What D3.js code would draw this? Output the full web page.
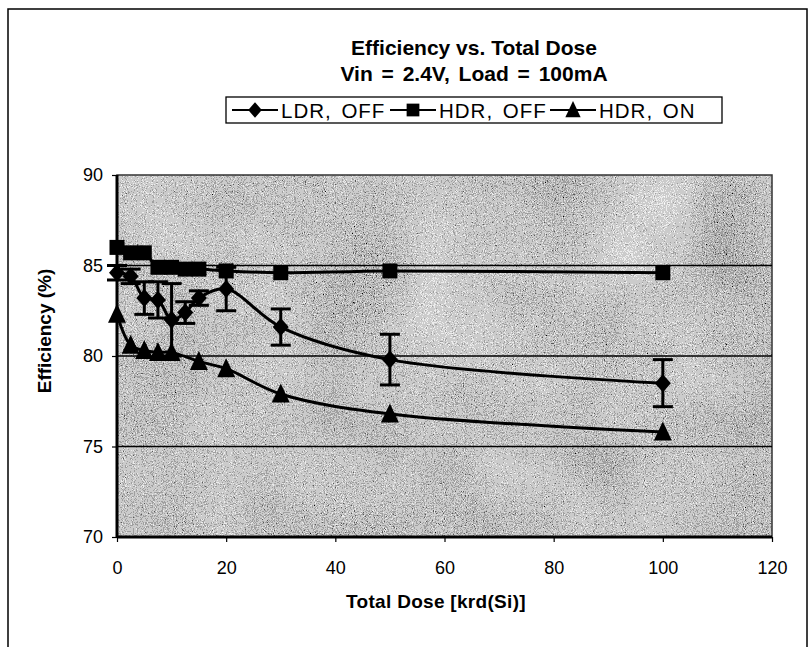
<!DOCTYPE html>
<html>
<head>
<meta charset="utf-8">
<script src="https://cdn.jsdelivr.net/npm/d3@7"></script>
<style>
  html, body { margin: 0; padding: 0; background: #ffffff; }
  svg { display: block; font-family: "Liberation Sans", Arial, sans-serif; }
</style>
</head>
<body>
<svg id="chart" width="811" height="647"></svg>
<script>
// ---------------- data ----------------
const ldrDose   = [0, 2.5, 5, 7.5, 10, 12.5, 15, 20, 30, 50, 100];
const ldrEff    = [84.6, 84.4, 83.2, 83.1, 82.0, 82.4, 83.2, 83.7, 81.6, 79.8, 78.5];
const ldrErr    = [0.4, 0.4, 0.9, 1.0, 2.0, 0.6, 0.4, 1.2, 1.0, 1.4, 1.3];

const hdrOffDose = [0, 2.5, 5, 7.5, 10, 12.5, 15, 20, 30, 50, 100];
const hdrOffEff  = [86.0, 85.7, 85.7, 84.9, 84.9, 84.8, 84.8, 84.7, 84.6, 84.7, 84.6];

const hdrOnDose = [0, 2.5, 5, 7.5, 10, 15, 20, 30, 50, 100];
const hdrOnEff  = [82.3, 80.6, 80.3, 80.2, 80.2, 79.7, 79.3, 77.9, 76.8, 75.8];

const xTicks = [0, 20, 40, 60, 80, 100, 120];
const yTicks = [70, 75, 80, 85, 90];
const gridValues = [75, 80, 85];

const titleLines = ["Efficiency vs. Total Dose", "Vin = 2.4V, Load = 100mA"];
const xTitle = "Total Dose [krd(Si)]";
const yTitle = "Efficiency (%)";
const legendNames = ["LDR, OFF", "HDR, OFF", "HDR, ON"];
const legendShapes = ["diamond", "square", "triangle"];

// ---------------- layout ----------------
const svg = d3.select("#chart");
const plot = { left: 117, right: 772, top: 175, bottom: 537 };

const x = d3.scaleLinear().domain([0, 120]).range([plot.left, plot.right]);
const y = d3.scaleLinear().domain([70, 90]).range([plot.bottom, plot.top]);

// outer chart border
svg.append("rect")
  .attr("x", 8).attr("y", 9).attr("width", 799).attr("height", 660)
  .attr("fill", "none").attr("stroke", "#000").attr("stroke-width", 1.5);

// texture filter for plot background
const defs = svg.append("defs");
const f = defs.append("filter").attr("id", "grain")
  .attr("x", 0).attr("y", 0).attr("width", 1).attr("height", 1)
  .attr("filterUnits", "objectBoundingBox");
f.append("feTurbulence").attr("type", "fractalNoise")
  .attr("baseFrequency", "0.9").attr("numOctaves", 2).attr("seed", 7).attr("result", "fine");
f.append("feTurbulence").attr("type", "fractalNoise")
  .attr("baseFrequency", "0.01").attr("numOctaves", 2).attr("seed", 3).attr("result", "coarse");
f.append("feComposite").attr("in", "fine").attr("in2", "coarse")
  .attr("operator", "arithmetic").attr("k1", 0).attr("k2", 0.9).attr("k3", 0.25).attr("k4", -0.08)
  .attr("result", "mix");
f.append("feColorMatrix").attr("in", "mix").attr("type", "matrix")
  .attr("values", "0.33 0.33 0.33 0 0  0.33 0.33 0.33 0 0  0.33 0.33 0.33 0 0  0 0 0 0 1");
const ct = f.append("feComponentTransfer");
["feFuncR", "feFuncG", "feFuncB"].forEach(n =>
  ct.append(n).attr("type", "discrete").attr("tableValues", "0 0.1 0.35 0.6 0.85 1 1 1"));

svg.append("rect")
  .attr("x", plot.left).attr("y", plot.top)
  .attr("width", plot.right - plot.left).attr("height", plot.bottom - plot.top)
  .attr("fill", "#c0c0c0")
  .attr("filter", "url(#grain)");

// plot border (top/right thin)
svg.append("rect")
  .attr("x", plot.left).attr("y", plot.top)
  .attr("width", plot.right - plot.left).attr("height", plot.bottom - plot.top)
  .attr("fill", "none").attr("stroke", "#333").attr("stroke-width", 1.5);

// gridlines
svg.append("g").selectAll("line").data(gridValues).join("line")
  .attr("x1", plot.left).attr("x2", plot.right)
  .attr("y1", d => y(d)).attr("y2", d => y(d))
  .attr("stroke", "#000").attr("stroke-width", 1.6);

// axes
const yAxis = svg.append("g").attr("transform", `translate(${plot.left},0)`)
  .call(d3.axisLeft(y).tickValues(yTicks).tickSize(5).tickPadding(9).tickFormat(d3.format("d")));
const xAxis = svg.append("g").attr("transform", `translate(0,${plot.bottom})`)
  .call(d3.axisBottom(x).tickValues(xTicks).tickSize(5).tickPadding(19).tickFormat(d3.format("d")));
[yAxis, xAxis].forEach(g => {
  g.select(".domain").attr("stroke", "#000").attr("stroke-width", 3);
  g.selectAll(".tick line").attr("stroke", "#000").attr("stroke-width", 1.2);
  g.selectAll(".tick text").attr("fill", "#000")
    .style("font-size", "18px").style("font-family", '"Liberation Sans", Arial, sans-serif');
});
xAxis.select(".domain").attr("d", `M${plot.left},0H${plot.right}`);
yAxis.select(".domain").attr("d", `M0,${plot.top}V${plot.bottom}`);

// axis titles
svg.append("text").attr("x", 436).attr("y", 608)
  .attr("text-anchor", "middle").attr("font-weight", "bold").attr("font-size", 19)
  .attr("letter-spacing", 0.3)
  .text(xTitle);
svg.append("text").attr("transform", `translate(51,331) rotate(-90)`)
  .attr("text-anchor", "middle").attr("font-weight", "bold").attr("font-size", 19)
  .text(yTitle);

// title
svg.append("g").selectAll("text").data(titleLines).join("text")
  .attr("x", 474).attr("y", (d, i) => 55 + i * 26)
  .attr("text-anchor", "middle").attr("font-weight", "bold").attr("font-size", 21)
  .attr("word-spacing", (d, i) => i === 1 ? 3 : 0)
  .text(d => d);

// ---------------- series ----------------
const line = d3.line().x(d => x(d[0])).y(d => y(d[1])).curve(d3.curveCatmullRom.alpha(0.5));

function shapePath(type) {
  if (type === "diamond") return "M0,-9L8,0L0,9L-8,0Z";
  if (type === "square") return "M-7.5,-7.5H7.5V7.5H-7.5Z";
  return "M0,-10.5L9,8.5H-9Z";
}

const seriesList = [
  { dose: ldrDose, eff: ldrEff, shape: "diamond" },
  { dose: hdrOffDose, eff: hdrOffEff, shape: "square" },
  { dose: hdrOnDose, eff: hdrOnEff, shape: "triangle" }
];

// lines
seriesList.forEach(s => {
  const pts = s.dose.map((d, i) => [d, s.eff[i]]);
  svg.append("path").datum(pts).attr("d", line)
    .attr("fill", "none").attr("stroke", "#000").attr("stroke-width", 3);
});

// error bars for LDR
const eb = svg.append("g").attr("stroke", "#000").attr("stroke-width", 3);
ldrDose.forEach((d, i) => {
  const cx = x(d), yt = y(ldrEff[i] + ldrErr[i]), yb = y(ldrEff[i] - ldrErr[i]);
  eb.append("line").attr("x1", cx).attr("x2", cx).attr("y1", yt).attr("y2", yb);
  eb.append("line").attr("x1", cx - 10).attr("x2", cx + 10).attr("y1", yt).attr("y2", yt);
  eb.append("line").attr("x1", cx - 10).attr("x2", cx + 10).attr("y1", yb).attr("y2", yb);
});

// markers
seriesList.forEach(s => {
  svg.append("g").selectAll("path").data(s.dose.map((d, i) => [d, s.eff[i]])).join("path")
    .attr("d", shapePath(s.shape))
    .attr("transform", d => `translate(${x(d[0])},${y(d[1])})`)
    .attr("fill", "#000");
});

// ---------------- legend ----------------
const leg = svg.append("g");
const legBox = { x: 226, y: 97, w: 496, h: 26 };
leg.append("rect").attr("x", legBox.x).attr("y", legBox.y)
  .attr("width", legBox.w).attr("height", legBox.h)
  .attr("fill", "#fff").attr("stroke", "#000").attr("stroke-width", 1.3);
const legItemX = [232, 390, 550];
legendNames.forEach((name, i) => {
  const gx = legItemX[i], gy = legBox.y + legBox.h / 2;
  leg.append("line").attr("x1", gx).attr("x2", gx + 46).attr("y1", gy).attr("y2", gy)
    .attr("stroke", "#000").attr("stroke-width", 1.8);
  leg.append("path").attr("d", shapePath(legendShapes[i]))
    .attr("transform", `translate(${gx + 23},${gy}) scale(0.85)`).attr("fill", "#000");
  leg.append("text").attr("x", gx + 49).attr("y", gy + 7.5)
    .attr("font-size", 20.5).attr("letter-spacing", 1).attr("word-spacing", 3).text(name);
});
</script>
</body>
</html>
